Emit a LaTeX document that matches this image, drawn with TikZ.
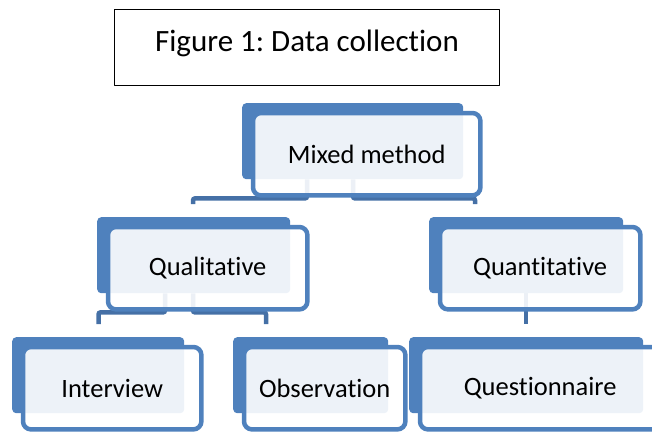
\documentclass[tikz,border=0pt]{standalone}
\usepackage{fontspec}
\setmainfont{Carlito}[Ligatures=NoCommon]
\frenchspacing
\usetikzlibrary{calc,backgrounds}
\definecolor{boxblue}{HTML}{4F81BD}
\definecolor{linkblue}{HTML}{4570A6}
\tikzset{
  backbox/.style={fill=boxblue,rounded corners=4pt,minimum height=76pt,anchor=north west,inner sep=0pt},
  frontbox/.style={draw=boxblue,line width=4.5pt,fill=white,fill opacity=.9,rounded corners=8pt},
  link/.style={draw=linkblue,line width=4.5pt,rounded corners=2pt},
  lbl/.style={font=\fontsize{26.5}{30}\selectfont,inner sep=0pt}
}
\begin{document}
\begin{tikzpicture}[x=1pt,y=-1pt,line join=round]
\clip (0,0) rectangle (652,431);
\node[draw,line width=1.2pt,minimum width=385pt,minimum height=76pt,inner sep=0pt,
  font=\fontsize{31}{36}\selectfont,text depth=14pt] (title) at (307,47.5) {Figure 1: Data collection};
% boxes
\foreach \n/\x/\y/\w/\t in {mixed/242/103/221/Mixed method,qual/97/217/193/Qualitative,
  quant/429/217/194/Quantitative,interview/12/337/172/Interview,
  observation/233/337/155/Observation,questionnaire/409/337/234/Questionnaire}
{
  \node[backbox,minimum width=\w pt] (\n) at (\x,\y) {};
  \path[frontbox] ($(\n.north west)+(11,10)$) rectangle ($(\n.south east)+(17,16)$);
  \node[lbl] (\n-lbl) at ($(\n.center)+(14,13)$) {\t};
}
% connectors
\begin{scope}[on background layer]
\foreach \a/\i/\b/\j in {mixed/65/qual/96,mixed/111/quant/46,qual/68/interview/86.5,
  qual/96/observation/33,quant/97/questionnaire/117}
  \draw[link] ($(\a.south west)+(\i,0)$) -- ++(0,19) -| ($(\b.north west)+(\j,-13)$);
\end{scope}
\end{tikzpicture}
\end{document}
